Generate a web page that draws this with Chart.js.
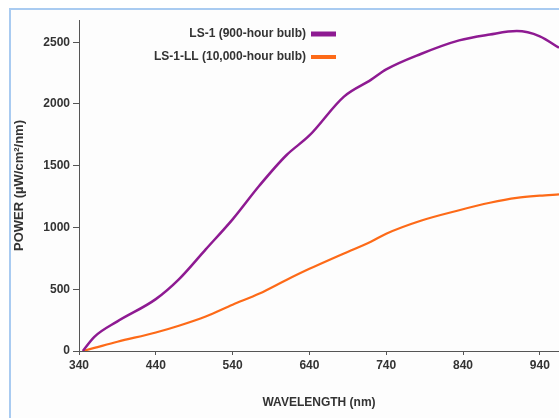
<!DOCTYPE html>
<html>
<head>
<meta charset="utf-8">
<script src="https://cdn.jsdelivr.net/npm/chart.js@4"></script>
<style>
  html, body { margin: 0; padding: 0; background: #fff; }
  #wrap { position: relative; width: 559px; height: 418px; overflow: hidden; }
  #frame { position: absolute; left: 9px; top: 8px; width: 620px; height: 460px;
           border-left: 2px solid #a9cbf1; border-top: 2px solid #a9cbf1; background: #fdfdfd; }
  #grafico { position: absolute; left: 0; top: 0; }
</style>
</head>
<body>
<div id="wrap">
  <div id="frame"></div>
  <canvas id="grafico" width="559" height="418"></canvas>
</div>
<script>
// datos
const longitudes = [345, 360, 390, 440, 470, 505, 540, 575, 610, 640, 685, 720, 740, 785, 835, 875, 910, 940, 965];
const ls1 = [0, 115, 240, 420, 580, 823, 1066, 1340, 1585, 1745, 2060, 2195, 2280, 2405, 2515, 2562, 2590, 2548, 2455];
const ls1ll = [0, 25, 75, 150, 205, 280, 375, 465, 575, 665, 790, 885, 950, 1055, 1140, 1200, 1240, 1258, 1268];
const ticksX = [340, 440, 540, 640, 740, 840, 940];
const ticksY = [0, 500, 1000, 1500, 2000, 2500];
const etiquetas = ['LS-1 (900-hour bulb)', 'LS-1-LL (10,000-hour bulb)'];

const fuente = { family: '"Liberation Sans", Arial, sans-serif', size: 12, weight: 'bold' };
const gris = '#333';

// leyenda a mano: texto a la izquierda, linea a la derecha
const leyenda = {
  id: 'leyenda',
  afterDraw(chart) {
    const ctx = chart.ctx;
    ctx.save();
    ctx.font = 'bold 12px "Liberation Sans", Arial, sans-serif';
    ctx.textAlign = 'right';
    ctx.textBaseline = 'middle';
    chart.data.datasets.forEach((ds, i) => {
      const y = 34 + i * 23;
      ctx.fillStyle = gris;
      ctx.fillText(ds.label, 306, y);
      ctx.strokeStyle = ds.borderColor;
      ctx.lineWidth = i === 0 ? 5 : 4;
      ctx.beginPath();
      ctx.moveTo(311, y);
      ctx.lineTo(336, y);
      ctx.stroke();
    });
    ctx.restore();
  }
};

const ctx = document.getElementById('grafico').getContext('2d');
new Chart(ctx, {
  type: 'line',
  data: {
    datasets: [{
      label: etiquetas[0],
      data: longitudes.map((x, i) => ({ x: x, y: ls1[i] })),
      borderColor: '#8e1a92',
      borderWidth: 2.5,
      pointRadius: 0,
      cubicInterpolationMode: 'monotone'
    }, {
      label: etiquetas[1],
      data: longitudes.map((x, i) => ({ x: x, y: ls1ll[i] })),
      borderColor: '#fd6a18',
      borderWidth: 2.2,
      pointRadius: 0,
      cubicInterpolationMode: 'monotone'
    }]
  },
  options: {
    responsive: false,
    animation: false,
    layout: { padding: { left: 12, top: 20, right: 0, bottom: 8 } },
    plugins: {
      legend: { display: false },
      tooltip: { enabled: false }
    },
    scales: {
      x: {
        type: 'linear',
        min: 340,
        max: 965,
        afterBuildTicks: s => { s.ticks = ticksX.map(v => ({ value: v })); },
        afterFit: s => { s.height = 59; },
        grid: { display: true, drawOnChartArea: false, drawTicks: true, tickLength: 4, color: '#555' },
        border: { display: true, color: '#555', width: 1 },
        ticks: { font: fuente, color: gris, padding: 3, maxRotation: 0, callback: v => String(v) },
        title: { display: true, text: 'WAVELENGTH (nm)', font: fuente, color: gris, padding: { top: 0, bottom: 0 } }
      },
      y: {
        type: 'linear',
        min: 0,
        max: 2680,
        afterBuildTicks: s => { s.ticks = ticksY.map(v => ({ value: v })); },
        afterFit: s => { s.width = 67; },
        grid: { display: true, drawOnChartArea: false, drawTicks: true, tickLength: 6, color: '#555' },
        border: { display: true, color: '#555', width: 1 },
        ticks: { font: fuente, color: gris, padding: 3, callback: v => String(v) },
        title: { display: true, text: 'POWER (µW/cm²/nm)', font: { family: fuente.family, size: 13, weight: 'bold' }, color: gris, padding: { top: 0, bottom: 0 } }
      }
    }
  },
  plugins: [leyenda]
});
</script>
</body>
</html>
